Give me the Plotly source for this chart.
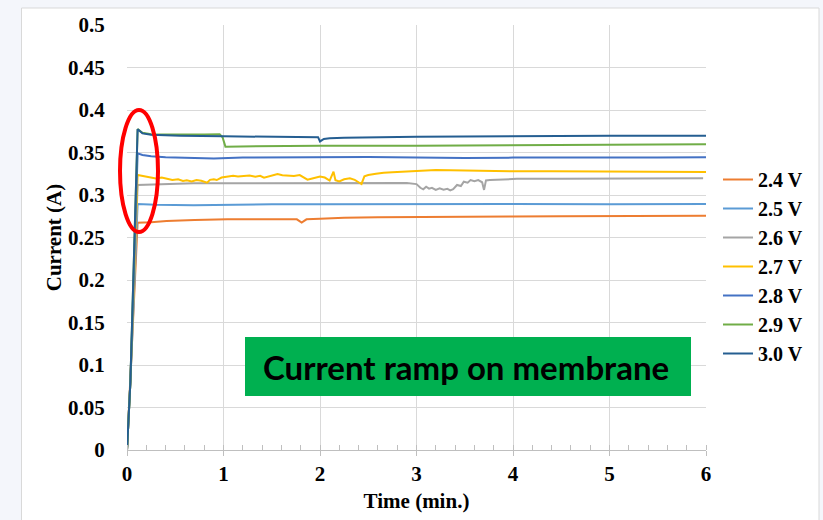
import plotly.graph_objects as go

# ---------------- data ----------------
series_names = ["2.4 V", "2.5 V", "2.6 V", "2.7 V", "2.8 V", "2.9 V", "3.0 V"]
series_colors = ["#ED7D31", "#5B9BD5", "#A5A5A5", "#FFC000", "#4472C4", "#70AD47", "#255E91"]

t_24 = [0, 0.035, 0.11, 0.25, 0.41, 0.7, 1.04, 1.4, 1.76, 1.81, 1.86, 2.0, 2.25, 2.6, 3.0, 3.5, 4.0, 4.5, 5.0, 5.5, 6.0]
i_24 = [0, 0.08, 0.2675, 0.268, 0.2694, 0.2705, 0.2714, 0.2714, 0.2714, 0.2675, 0.2714, 0.2722, 0.2733, 0.2737,
        0.2742, 0.2745, 0.2748, 0.2750, 0.2753, 0.2753, 0.2757]

t_25 = [0, 0.035, 0.11, 0.3, 0.69, 1.0, 1.5, 2, 3, 4, 5, 6]
i_25 = [0, 0.08, 0.2894, 0.2885, 0.2878, 0.2885, 0.289, 0.289, 0.2894, 0.2894, 0.2892, 0.2894]

t_26 = [0, 0.035, 0.11, 0.3, 0.69, 1.0, 1.5, 2.0, 2.5, 2.9, 3.0, 3.04, 3.07, 3.1, 3.13, 3.16, 3.2, 3.24, 3.28,
        3.32, 3.35, 3.38, 3.42, 3.46, 3.49, 3.53, 3.56, 3.6, 3.64, 3.68, 3.7, 3.72, 3.76, 3.85, 4.04, 4.5, 5.0,
        5.5, 5.97]
i_26 = [0, 0.08, 0.3118, 0.3125, 0.3137, 0.3137, 0.3137, 0.3140, 0.3142, 0.3140, 0.3128, 0.3085, 0.3067, 0.3098,
        0.3075, 0.3085, 0.306, 0.3078, 0.3062, 0.3072, 0.3055, 0.3068, 0.3118, 0.3105, 0.3157, 0.3145, 0.3176,
        0.3162, 0.3175, 0.3150, 0.306, 0.3172, 0.3176, 0.3182, 0.319, 0.3192, 0.3194, 0.3196, 0.3196]

t_27 = [0, 0.035, 0.11, 0.17, 0.24, 0.3, 0.36, 0.41, 0.47, 0.53, 0.58, 0.62, 0.67, 0.72, 0.77, 0.83, 0.86, 0.9,
        0.93, 0.98, 1.04, 1.1, 1.15, 1.21, 1.27, 1.33, 1.38, 1.42, 1.47, 1.52, 1.56, 1.61, 1.67, 1.73, 1.79, 1.83,
        1.87, 1.92, 2.0, 2.05, 2.1, 2.14, 2.16, 2.2, 2.25, 2.31, 2.36, 2.4, 2.43, 2.46, 2.5, 2.58, 2.66, 2.75,
        2.83, 3.0, 3.2, 3.4, 3.55, 3.7, 3.9, 4.1, 4.4, 4.7, 5.0, 5.3, 5.6, 6.0]
i_27 = [0, 0.08, 0.3235, 0.3222, 0.321, 0.3195, 0.3205, 0.319, 0.3178, 0.3185, 0.3165, 0.3172, 0.3160, 0.3175,
        0.3168, 0.3145, 0.3178, 0.3184, 0.3176, 0.3205, 0.3216, 0.3225, 0.3218, 0.3224, 0.3230, 0.3215, 0.3226,
        0.3204, 0.3222, 0.3235, 0.3247, 0.3232, 0.3228, 0.3224, 0.3235, 0.3205, 0.3180, 0.3195, 0.3216, 0.3205,
        0.317, 0.3275, 0.3175, 0.316, 0.3185, 0.3196, 0.3178, 0.3150, 0.3130, 0.3220, 0.3235, 0.3250, 0.3263,
        0.3268, 0.3270, 0.3282, 0.3294, 0.3290, 0.3286, 0.3283, 0.3280, 0.3278, 0.3280, 0.3278, 0.3276, 0.3275,
        0.3274, 0.3272]

t_28 = [0, 0.035, 0.11, 0.16, 0.25, 0.4, 0.6, 0.9, 1.2, 1.6, 2.0, 2.5, 3.0, 3.5, 4.0, 4.5, 5.0, 5.5, 6.0]
i_28 = [0, 0.08, 0.349, 0.347, 0.3455, 0.3443, 0.3438, 0.343, 0.344, 0.3445, 0.345, 0.3448, 0.344, 0.3435, 0.344,
        0.3445, 0.3442, 0.344, 0.3445]

t_29 = [0, 0.035, 0.11, 0.16, 0.25, 0.55, 0.8, 0.96, 0.99, 1.02, 1.5, 2.0, 3.0, 4.0, 5.0, 6.0]
i_29 = [0, 0.08, 0.3776, 0.3733, 0.3714, 0.3710, 0.3712, 0.3716, 0.3680, 0.3569, 0.3575, 0.358, 0.358, 0.3585,
        0.359, 0.3596]

t_30 = [0, 0.035, 0.11, 0.16, 0.25, 0.55, 1.0, 1.5, 1.98, 2.0, 2.04, 2.1, 2.25, 3.0, 4.0, 5.0, 6.0]
i_30 = [0, 0.08, 0.3773, 0.3725, 0.3710, 0.3698, 0.3690, 0.3688, 0.368, 0.3630, 0.3660, 0.3668, 0.3675, 0.3686,
        0.3694, 0.3697, 0.3698]

series_t = [t_24, t_25, t_26, t_27, t_28, t_29, t_30]
series_i = [i_24, i_25, i_26, i_27, i_28, i_29, i_30]

y_tickvals = [0, 0.05, 0.1, 0.15, 0.2, 0.25, 0.3, 0.35, 0.4, 0.45, 0.5]
y_ticktext = ["0", "0.05", "0.1", "0.15", "0.2", "0.25", "0.3", "0.35", "0.4", "0.45", "0.5"]
x_tickvals = [0, 1, 2, 3, 4, 5, 6]
x_ticktext = ["0", "1", "2", "3", "4", "5", "6"]

x_title = "Time (min.)"
y_title = "Current (A)"
box_text = "Current ramp on membrane"

# ---------------- figure ----------------
W, H = 823, 520
L, R, T, B = 127, 117, 25, 70
pw, ph = W - L - R, H - T - B


def px_x(p):
    return (p - L) / pw


def px_y(p):
    return (H - B - p) / ph


serif = "Liberation Serif, Times New Roman, serif"
FS = 21

fig = go.Figure()
for name, color, tt, ii in zip(series_names, series_colors, series_t, series_i):
    fig.add_trace(go.Scatter(x=tt, y=ii, mode="lines", name=name,
                             line=dict(color=color, width=2)))

fig.update_layout(
    width=W, height=H,
    margin=dict(l=L, r=R, t=T, b=B, autoexpand=False),
    paper_bgcolor="#F4F6FB",
    plot_bgcolor="#FFFFFF",
    font=dict(family=serif, size=FS, color="#000000"),
    showlegend=True,
    legend=dict(x=px_x(718), y=px_y(160), xanchor="left", yanchor="top",
                bgcolor="rgba(0,0,0,0)",
                font=dict(family=serif, size=20, color="#000000", weight="bold"),
                itemwidth=30, tracegroupgap=0),
    xaxis=dict(range=[0, 6], tickvals=x_tickvals, ticktext=x_ticktext,
               showgrid=True, gridcolor="#D9D9D9", gridwidth=1, zeroline=False,
               showline=True, linecolor="#BFBFBF", linewidth=1,
               ticks="outside", ticklen=5, tickcolor="#BFBFBF",
               minor=dict(dtick=0.2, ticks="inside", ticklen=5, tickcolor="#BFBFBF", showgrid=False),
               tickfont=dict(family=serif, size=FS, color="#000000", weight="bold"),
               title=dict(text="<b>" + x_title + "</b>", font=dict(family=serif, size=FS), standoff=8)),
    yaxis=dict(range=[0, 0.5], tickvals=y_tickvals, ticktext=y_ticktext,
               showgrid=True, gridcolor="#D9D9D9", gridwidth=1, zeroline=False,
               showline=False, ticks="outside", ticklen=17, tickcolor="rgba(0,0,0,0)",
               tickfont=dict(family=serif, size=FS, color="#000000", weight="bold"),
               title=dict(text="<b>" + y_title + "</b>", font=dict(family=serif, size=FS), standoff=0)),
)

shapes = [
    # white chart area
    dict(type="rect", xref="paper", yref="paper", layer="below",
         x0=px_x(21.5), x1=px_x(819), y0=px_y(540), y1=px_y(8),
         fillcolor="#FFFFFF", line=dict(color="#D9D9D9", width=1)),
    # green label box
    dict(type="rect", xref="paper", yref="paper", layer="above",
         x0=px_x(245), x1=px_x(691), y0=px_y(396), y1=px_y(337),
         fillcolor="#00B050", line=dict(width=0)),
    # red ellipse
    dict(type="circle", xref="paper", yref="paper", layer="above",
         x0=px_x(120), x1=px_x(158), y0=px_y(232), y1=px_y(110),
         line=dict(color="#FF0000", width=4), fillcolor="rgba(0,0,0,0)"),
]
fig.update_layout(shapes=shapes)

fig.add_annotation(xref="paper", yref="paper", x=px_x(466), y=px_y(367),
                   xanchor="center", yanchor="middle",
                   text="<b>" + box_text + "</b>", showarrow=False,
                   font=dict(family="Lato, Carlito, sans-serif", size=33, color="#000000"))

fig.write_html("out.html")
